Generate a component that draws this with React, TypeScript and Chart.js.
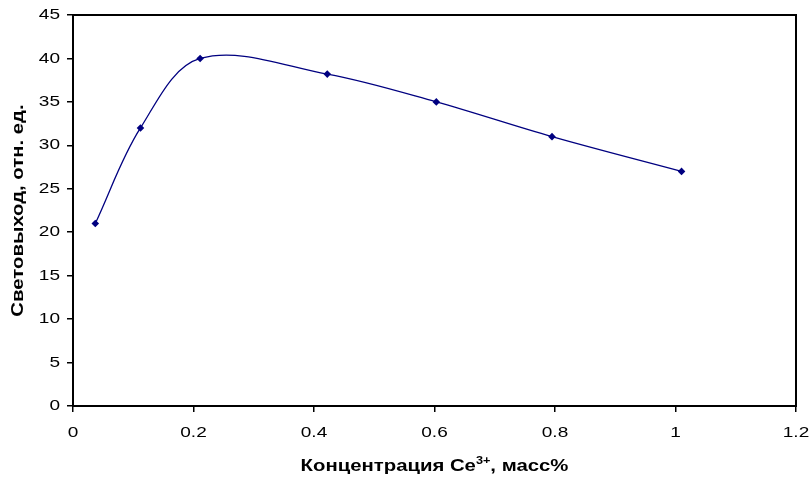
import { useEffect, useRef } from 'react';
import { Chart, registerables } from 'chart.js';

Chart.register(...registerables);

// ---- data ----
const concentration = [0.037, 0.112, 0.211, 0.422, 0.603, 0.795, 1.01];
const lightYield = [21, 32, 40, 38.2, 35, 31, 27];
const xTickLabels = ['0', '0.2', '0.4', '0.6', '0.8', '1', '1.2'];
const yTickLabels = ['0', '5', '10', '15', '20', '25', '30', '35', '40', '45'];
const yTitle = 'Световыход, отн. ед.';
const xTitleMain = 'Концентрация Ce';
const xTitleSup = '3+';
const xTitleTail = ', масс%';

const FONT = '"Liberation Sans", Arial, sans-serif';
const TEXT_STRETCH = 1.27;

function drawStretched(
  ctx: CanvasRenderingContext2D,
  text: string,
  x: number,
  y: number,
  align: CanvasTextAlign,
  baseline: CanvasTextBaseline,
) {
  ctx.save();
  ctx.translate(x, y);
  ctx.scale(TEXT_STRETCH, 1);
  ctx.textAlign = align;
  ctx.textBaseline = baseline;
  ctx.fillText(text, 0, 0);
  ctx.restore();
}

const framePlugin = {
  id: 'frameAndTitles',
  beforeDatasetsDraw(chart: any) {
    const { ctx, chartArea: ca } = chart;
    ctx.save();
    ctx.strokeStyle = '#000';
    ctx.lineWidth = 2;
    ctx.strokeRect(ca.left, ca.top, ca.right - ca.left, ca.bottom - ca.top);
    ctx.restore();
  },
  afterDraw(chart: any) {
    const { ctx, chartArea: ca } = chart;
    const xs = chart.scales.x;
    const ys = chart.scales.y;
    ctx.save();
    ctx.fillStyle = '#000';

    // tick labels
    ctx.font = `15px ${FONT}`;
    xs.ticks.forEach((t: any, i: number) => {
      const px = xs.getPixelForValue(t.value);
      drawStretched(ctx, xTickLabels[i] ?? String(t.value), px, ca.bottom + 27, 'center', 'middle');
    });
    ys.ticks.forEach((t: any, i: number) => {
      const py = ys.getPixelForValue(t.value);
      drawStretched(ctx, yTickLabels[i] ?? String(t.value), ca.left - 13, py, 'right', 'middle');
    });

    // x title with superscript
    const mainFont = `bold 16px ${FONT}`;
    const supFont = `bold 10px ${FONT}`;
    ctx.font = mainFont;
    const w1 = ctx.measureText(xTitleMain).width * TEXT_STRETCH;
    const w3 = ctx.measureText(xTitleTail).width * TEXT_STRETCH;
    ctx.font = supFont;
    const w2 = ctx.measureText(xTitleSup).width * TEXT_STRETCH;
    const total = w1 + w2 + w3;
    let x = (ca.left + ca.right) / 2 - total / 2;
    const yBase = chart.height - 13;
    ctx.font = mainFont;
    drawStretched(ctx, xTitleMain, x, yBase, 'left', 'alphabetic');
    x += w1;
    ctx.font = supFont;
    drawStretched(ctx, xTitleSup, x, yBase - 7, 'left', 'alphabetic');
    x += w2;
    ctx.font = mainFont;
    drawStretched(ctx, xTitleTail, x, yBase, 'left', 'alphabetic');

    // y title (rotated)
    ctx.translate(19, (ca.top + ca.bottom) / 2);
    ctx.rotate(-Math.PI / 2);
    ctx.font = mainFont;
    drawStretched(ctx, yTitle, 0, 0, 'center', 'middle');
    ctx.restore();
  },
};

export default function App() {
  const canvasRef = useRef<HTMLCanvasElement | null>(null);

  useEffect(() => {
    document.body.style.margin = '0';
    const canvas = canvasRef.current;
    if (!canvas) return;
    const gridOpts = {
      display: true,
      drawOnChartArea: false,
      drawTicks: true,
      tickLength: 6,
      color: '#000',
      lineWidth: 1.5,
    };
    const chart = new Chart(canvas, {
      type: 'scatter',
      data: {
        datasets: [
          {
            data: concentration.map((c, i) => ({ x: c, y: lightYield[i] })),
            showLine: true,
            borderColor: '#000080',
            backgroundColor: '#000080',
            borderWidth: 1.3,
            tension: 0.35,
            pointStyle: 'rectRot',
            pointRadius: 3.8,
            pointBorderWidth: 0,
            pointBackgroundColor: '#000080',
          },
        ],
      },
      options: {
        animation: false,
        responsive: true,
        maintainAspectRatio: false,
        layout: { padding: { left: 0, top: 15, right: 15, bottom: 0 } },
        plugins: { legend: { display: false }, tooltip: { enabled: false } },
        scales: {
          x: {
            type: 'linear',
            min: 0,
            max: 1.2,
            afterFit(scale: any) {
              scale.height = 78;
            },
            grid: gridOpts,
            border: { display: false },
            ticks: { stepSize: 0.2, display: false },
          },
          y: {
            type: 'linear',
            min: 0,
            max: 45,
            afterFit(scale: any) {
              scale.width = 73;
            },
            grid: gridOpts,
            border: { display: false },
            ticks: { stepSize: 5, display: false },
          },
        },
      },
      plugins: [framePlugin],
    });
    return () => chart.destroy();
  }, []);

  return (
    <div style={{ width: 811, height: 484, position: 'relative', background: '#fff' }}>
      <canvas ref={canvasRef} />
    </div>
  );
}
